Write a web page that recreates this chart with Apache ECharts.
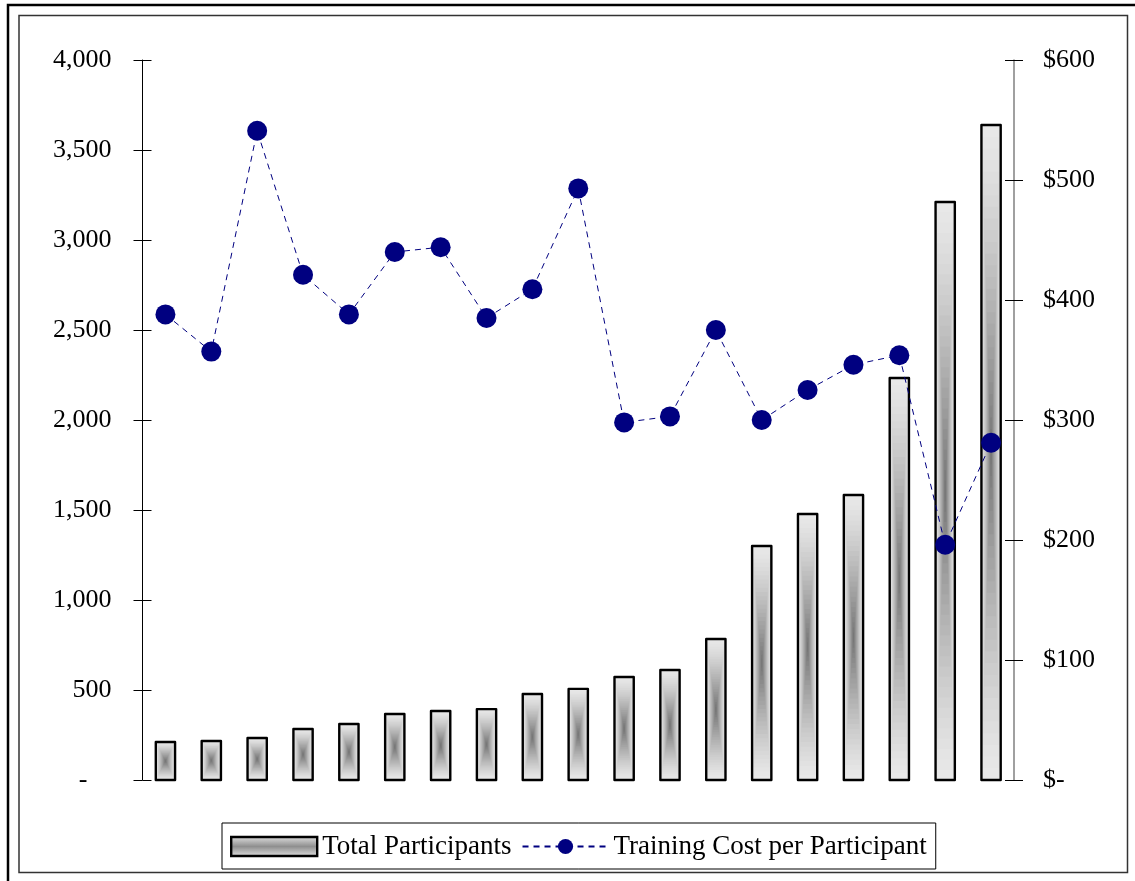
<!DOCTYPE html>
<html>
<head>
<meta charset="utf-8">
<script src="https://cdn.jsdelivr.net/npm/echarts@6/dist/echarts.min.js"></script>
<style>
html,body{margin:0;padding:0;background:#fff;}
#chart{width:1135px;height:881px;}
</style>
</head>
<body>
<div id="chart"></div>
<script>
// ---- data ----
const categories = ['1','2','3','4','5','6','7','8','9','10','11','12','13','14','15','16','17','18','19'];
const totalParticipants = [211, 217, 233, 283, 311, 367, 383, 394, 478, 506, 572, 611, 783, 1300, 1478, 1583, 2233, 3211, 3639];
const costPerParticipant = [388, 357, 541, 421, 388, 440, 444, 385, 409, 493, 298, 303, 375, 300, 325, 346, 354, 196, 281];
const leftTicks = { min: 0, max: 4000, interval: 500 };
const rightTicks = { min: 0, max: 600, interval: 100 };
const seriesNames = ['Total Participants', 'Training Cost per Participant'];

const FONT = 'Liberation Serif';
const NAVY = '#000080';

function shade(t) {
  const e = Math.pow(t, 1.3);
  const light = 232, dark = 112;
  const v = Math.round(light - (light - dark) * e);
  return 'rgb(' + v + ',' + v + ',' + v + ')';
}

function renderBar(params, api) {
  const i = api.value(0), v = api.value(1);
  const pTop = api.coord([i, v]);
  const pBase = api.coord([i, 0]);
  const bw = api.size([1, 0])[0] * 0.42;
  const x = pTop[0] - bw / 2, y = pTop[1], h = pBase[1] - pTop[1];
  const children = [];
  const N = 28;
  for (let k = 0; k < N; k++) {
    const t = k / N;
    const dx = t * bw / 2, dy = t * h / 2;
    children.push({
      type: 'rect',
      shape: { x: x + dx, y: y + dy, width: bw - 2 * dx, height: h - 2 * dy },
      style: { fill: shade(t) }
    });
  }
  children.push({
    type: 'rect',
    shape: { x: x, y: y, width: bw, height: h },
    style: { fill: 'none', stroke: '#000', lineWidth: 2.4, lineJoin: 'round' }
  });
  return { type: 'group', children: children };
}

const chart = echarts.init(document.getElementById('chart'), null, { renderer: 'canvas' });

const baseY = {
  type: 'value',
  splitLine: { show: false },
  axisLabel: { show: false },
  axisLine: { show: false },
  axisTick: { show: true, inside: true, length: 9, lineStyle: { color: '#000', width: 1 } }
};

const option = {
  animation: false,
  backgroundColor: '#fff',
  graphic: [
    { type: 'rect', silent: true, z: 100, shape: { x: 8, y: 5, width: 2000, height: 2000 },
      style: { fill: 'none', stroke: '#000', lineWidth: 2.5 } },
    { type: 'rect', silent: true, z: 100, shape: { x: 19, y: 15.5, width: 1108.5, height: 857 },
      style: { fill: 'none', stroke: '#333', lineWidth: 1.5 } }
  ],
  grid: { left: 142.5, right: 121, top: 60, bottom: 101, containLabel: false },
  legend: {
    left: 222, top: 823,
    padding: [10, 9, 9, 8],
    itemGap: 10,
    itemWidth: 86, itemHeight: 19,
    borderColor: '#000', borderWidth: 1,
    textStyle: { fontFamily: FONT, fontSize: 27, color: '#000' },
    data: [
      { name: seriesNames[0], icon: 'rect',
        itemStyle: {
          color: { type: 'linear', x: 0, y: 0, x2: 0, y2: 1,
            colorStops: [{ offset: 0, color: '#e4e4e4' }, { offset: 0.5, color: '#8f8f8f' }, { offset: 1, color: '#e4e4e4' }] },
          borderColor: '#000', borderWidth: 2.4
        } },
      { name: seriesNames[1] }
    ]
  },
  xAxis: {
    type: 'category',
    data: categories,
    boundaryGap: true,
    axisLine: { show: false },
    axisTick: { show: false },
    axisLabel: { show: false },
    splitLine: { show: false }
  },
  yAxis: [
    {
      type: 'value', position: 'left',
      min: leftTicks.min, max: leftTicks.max, interval: leftTicks.interval,
      splitLine: { show: false },
      axisLine: { show: true, lineStyle: { color: '#000', width: 1 } },
      axisTick: { show: true, inside: false, length: 9, lineStyle: { color: '#000', width: 1 } },
      axisLabel: {
        margin: 31, fontFamily: FONT, fontSize: 26, color: '#000',
        formatter: function (v) { return v === 0 ? '{d|-}' : v.toLocaleString('en-US'); },
        rich: { d: { fontFamily: FONT, fontSize: 26, color: '#000', padding: [0, 24, 0, 0] } }
      }
    },
    {
      type: 'value', position: 'right',
      min: rightTicks.min, max: rightTicks.max, interval: rightTicks.interval,
      splitLine: { show: false },
      axisLine: { show: true, lineStyle: { color: '#808080', width: 1.5 } },
      axisTick: { show: true, inside: false, length: 9, lineStyle: { color: '#000', width: 1 } },
      axisLabel: {
        margin: 29, fontFamily: FONT, fontSize: 26, color: '#000',
        formatter: function (v) { return v === 0 ? '$-' : '$' + v; }
      }
    },
    Object.assign({}, baseY, { position: 'left', min: leftTicks.min, max: leftTicks.max, interval: leftTicks.interval }),
    Object.assign({}, baseY, { position: 'right', min: rightTicks.min, max: rightTicks.max, interval: rightTicks.interval })
  ],
  series: [
    {
      name: seriesNames[0],
      type: 'custom',
      xAxisIndex: 0, yAxisIndex: 0,
      renderItem: renderBar,
      encode: { x: 0, y: 1 },
      itemStyle: { color: '#999' },
      data: totalParticipants.map(function (v, i) { return [i, v]; }),
      z: 2
    },
    {
      name: seriesNames[1],
      type: 'line',
      yAxisIndex: 1,
      data: costPerParticipant,
      symbol: 'circle',
      symbolSize: 20,
      itemStyle: { color: NAVY },
      lineStyle: { color: NAVY, width: 1, type: [6, 5] },
      z: 5
    }
  ]
};

chart.setOption(option);
</script>
</body>
</html>
